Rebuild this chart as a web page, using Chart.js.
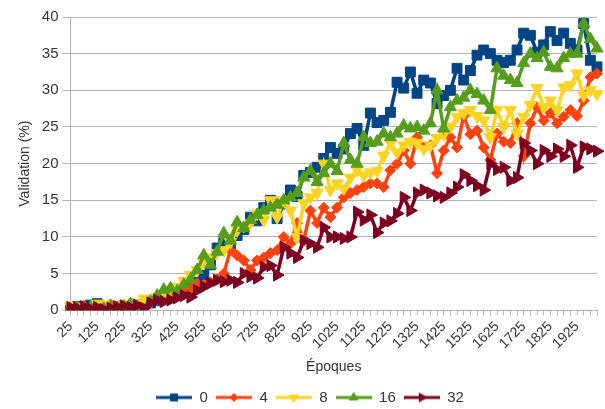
<!DOCTYPE html>
<html>
<head>
<meta charset="utf-8">
<script src="https://cdn.jsdelivr.net/npm/chart.js@4.4.0/dist/chart.umd.min.js"></script>
<style>
  body { margin: 0; background: #fff; }
</style>
</head>
<body>
<canvas id="chartValidation" width="605" height="409"></canvas>
<script>
// Epochs (x categories)
const epochs = [
  25, 50, 75, 100, 125, 150, 175, 200, 225, 250, 275, 300, 325, 350, 375, 400,
  425, 450, 475, 500, 525, 550, 575, 600, 625, 650, 675, 700, 725, 750, 775, 800,
  825, 850, 875, 900, 925, 950, 975, 1000, 1025, 1050, 1075, 1100, 1125, 1150, 1175, 1200,
  1225, 1250, 1275, 1300, 1325, 1350, 1375, 1400, 1425, 1450, 1475, 1500, 1525, 1550, 1575, 1600,
  1625, 1650, 1675, 1700, 1725, 1750, 1775, 1800, 1825, 1850, 1875, 1900, 1925, 1950, 1975, 2000,
];

// Validation (%) per series
const val0 = [
  0.3, 0.5, 0.2, 0.7, 0.9, 0.4, 0.3, 0.1, 0.0, 0.3, 0.6, 0.8, 1.0, 1.3, 1.8, 2.2,
  2.5, 2.6, 3.2, 3.8, 4.8, 6.2, 8.5, 9.2, 9.0, 10.2, 11.0, 12.7, 12.2, 14.0, 15.0, 12.5,
  14.5, 16.4, 15.5, 18.4, 18.8, 19.5, 20.7, 22.2, 21.4, 22.0, 24.1, 24.8, 22.5, 26.9, 25.6, 25.9,
  27.0, 31.1, 30.3, 32.5, 29.6, 31.4, 31.0, 28.2, 29.3, 30.0, 33.0, 31.4, 32.7, 34.8, 35.5, 35.0,
  34.1, 33.8, 34.1, 35.5, 37.8, 37.5, 35.2, 36.2, 38.0, 36.8, 37.8, 36.4, 35.5, 39.1, 34.1, 33.2,
];
const val4 = [
  0.2, 0.4, 0.6, 0.3, 0.2, 0.5, 0.8, 0.4, 0.6, 1.0, 0.8, 1.2, 1.0, 1.5, 1.8, 2.0,
  2.2, 2.7, 3.0, 3.7, 3.5, 3.8, 4.2, 5.0, 8.2, 7.5, 6.8, 5.5, 6.8, 7.2, 7.8, 8.2,
  10.0, 9.1, 11.9, 9.5, 13.6, 11.9, 14.0, 12.7, 14.0, 15.4, 16.0, 16.4, 16.8, 17.3, 17.3, 16.8,
  19.1, 20.0, 21.8, 20.0, 23.6, 22.2, 22.5, 18.7, 21.8, 23.6, 22.2, 26.5, 24.0, 24.5, 22.2, 20.5,
  24.1, 23.0, 22.8, 25.5, 21.0, 25.5, 27.7, 25.9, 26.9, 25.5, 26.4, 27.3, 26.5, 28.6, 31.8, 32.3,
];
const val8 = [
  0.6, 0.5, 0.4, 0.3, 0.9, 0.8, 0.4, 0.2, 0.9, 0.6, 1.0, 1.6, 1.3, 1.8, 2.3, 2.8,
  3.2, 4.0, 4.8, 5.5, 6.5, 7.2, 7.8, 8.2, 9.3, 10.9, 11.5, 11.9, 13.2, 12.3, 15.0, 12.7,
  15.0, 13.6, 10.0, 14.6, 15.4, 16.0, 20.0, 16.4, 17.3, 16.6, 18.1, 19.1, 18.4, 18.8, 19.0, 21.1,
  22.8, 21.5, 22.5, 23.0, 22.8, 22.0, 22.5, 23.5, 24.0, 25.0, 26.4, 26.9, 27.3, 26.5, 25.9, 23.6,
  27.3, 25.0, 27.3, 24.1, 26.4, 28.0, 30.3, 27.7, 28.6, 27.3, 30.4, 30.7, 32.3, 29.3, 30.0, 29.5,
];
const val16 = [
  0.0, 0.2, 0.1, 0.3, 0.0, 0.2, 0.4, 0.3, 0.5, 0.8, 0.4, 0.0, 1.2, 2.0, 2.8, 3.0,
  2.6, 3.5, 4.2, 5.5, 7.5, 6.2, 8.0, 10.5, 9.5, 12.0, 11.2, 12.3, 13.0, 13.6, 14.0, 14.4,
  15.0, 15.4, 16.0, 18.1, 19.0, 17.5, 18.7, 20.0, 19.0, 22.8, 20.5, 20.0, 23.6, 22.8, 23.0, 24.1,
  23.6, 24.1, 25.2, 24.8, 25.0, 24.5, 25.5, 30.0, 24.8, 27.7, 28.6, 29.0, 30.0, 29.5, 28.6, 27.3,
  33.0, 32.0, 31.4, 31.0, 33.7, 35.0, 34.4, 35.2, 33.2, 33.0, 34.4, 35.0, 35.0, 39.1, 37.0, 35.7,
];
const val32 = [
  0.4, 0.3, 0.5, 0.2, 0.4, 0.1, 0.3, 0.5, 0.6, 0.4, 0.7, 0.3, 1.0, 1.4, 1.2, 1.4,
  1.7, 2.0, 1.8, 2.7, 3.2, 3.7, 4.1, 3.9, 4.1, 3.8, 5.0, 4.6, 4.4, 5.9, 6.1, 4.8,
  8.6, 7.8, 7.2, 9.5, 9.1, 8.6, 11.3, 10.0, 10.0, 9.8, 10.0, 13.4, 12.3, 13.0, 10.6, 11.9,
  12.2, 13.2, 15.4, 13.6, 16.0, 16.4, 16.0, 15.6, 15.4, 16.0, 16.8, 18.5, 17.7, 17.0, 16.4, 20.0,
  19.2, 19.5, 17.7, 18.1, 22.8, 21.8, 20.0, 21.8, 21.0, 22.0, 21.0, 22.5, 19.5, 22.3, 22.0, 21.7,
];

const seriesNames = ["0", "4", "8", "16", "32"];
const yTicks = [0, 5, 10, 15, 20, 25, 30, 35, 40];

const FONT = "'Liberation Sans', Arial, sans-serif";
const TEXT = "#333333";
const GRID = "#b3b3b3";

const styles = [
  { color: "#004586", point: "rect", rotation: 0, radius: 7 },
  { color: "#ff420e", point: "rectRot", rotation: 0, radius: 5.5 },
  { color: "#ffd320", point: "triangle", rotation: 180, radius: 7 },
  { color: "#579d1c", point: "triangle", rotation: 0, radius: 7 },
  { color: "#7e0021", point: "triangle", rotation: 90, radius: 7 },
];

// legend glyph: short line with the marker in the middle
function legendIcon(s) {
  const c = document.createElement("canvas");
  c.width = 36;
  c.height = 12;
  const ctx = c.getContext("2d");
  ctx.strokeStyle = s.color;
  ctx.lineWidth = 3;
  ctx.beginPath();
  ctx.moveTo(0, 6);
  ctx.lineTo(36, 6);
  ctx.stroke();
  ctx.fillStyle = s.color;
  ctx.strokeStyle = s.color;
  ctx.lineWidth = 1;
  Chart.helpers.drawPoint(ctx, {
    pointStyle: s.point,
    rotation: s.rotation,
    radius: s.point === "rectRot" ? 4 : 5,
    borderWidth: 1,
  }, 18, 6);
  return c;
}

const allValues = [val0, val4, val8, val16, val32];

const datasets = allValues.map(function (vals, i) {
  const s = styles[i];
  return {
    label: seriesNames[i],
    data: vals,
    borderColor: s.color,
    backgroundColor: s.color,
    borderWidth: 3.5,
    pointStyle: s.point,
    pointRotation: s.rotation,
    pointRadius: s.radius,
    pointHoverRadius: s.radius,
    pointBorderWidth: 1,
    pointBorderColor: s.color,
    pointBackgroundColor: s.color,
    tension: 0,
    order: 4 - i,
  };
});

const icons = styles.map(legendIcon);

const ctx = document.getElementById("chartValidation").getContext("2d");
const chartValidation = new Chart(ctx, {
  type: "line",
  data: {
    labels: epochs.map(String),
    datasets: datasets,
  },
  options: {
    responsive: false,
    animation: false,
    layout: {
      padding: { left: 17, right: 2, top: 17, bottom: -6 },
    },
    scales: {
      x: {
        offset: false,
        border: { color: GRID, width: 1 },
        afterFit: function (scale) {
          // the last category has no label, so no room is needed on the right
          scale.paddingRight = 0;
        },
        grid: {
          drawOnChartArea: false,
          drawTicks: true,
          tickLength: 5,
          color: GRID,
        },
        ticks: {
          autoSkip: false,
          minRotation: 45,
          maxRotation: 45,
          padding: 3,
          color: TEXT,
          font: { family: FONT, size: 14 },
          callback: function (value, index) {
            return index % 4 === 0 ? this.getLabelForValue(value) : "";
          },
        },
        title: {
          display: true,
          text: "Époques",
          color: TEXT,
          font: { family: FONT, size: 14 },
          padding: { top: 4, bottom: 6 },
        },
      },
      y: {
        min: 0,
        max: 40,
        border: { color: GRID, width: 1 },
        afterBuildTicks: function (axis) {
          axis.ticks = yTicks.map(function (v) { return { value: v }; });
        },
        grid: {
          color: GRID,
          tickLength: 8,
        },
        ticks: {
          color: TEXT,
          padding: 4,
          font: { family: FONT, size: 15 },
        },
        title: {
          display: true,
          text: "Validation (%)",
          color: TEXT,
          font: { family: FONT, size: 14 },
          padding: { top: 0, bottom: 4 },
        },
      },
    },
    plugins: {
      legend: {
        position: "bottom",
        labels: {
          usePointStyle: true,
          pointStyleWidth: 36,
          padding: 8,
          color: TEXT,
          font: { family: FONT, size: 15 },
          sort: function (a, b) { return a.datasetIndex - b.datasetIndex; },
          generateLabels: function (chart) {
            return chart.data.datasets.map(function (ds, i) {
              return {
                text: ds.label,
                fillStyle: ds.borderColor,
                strokeStyle: ds.borderColor,
                fontColor: TEXT,
                pointStyle: icons[i],
                lineWidth: 0,
                hidden: false,
                datasetIndex: i,
              };
            });
          },
        },
      },
      tooltip: { enabled: false },
    },
  },
});
</script>
</body>
</html>
